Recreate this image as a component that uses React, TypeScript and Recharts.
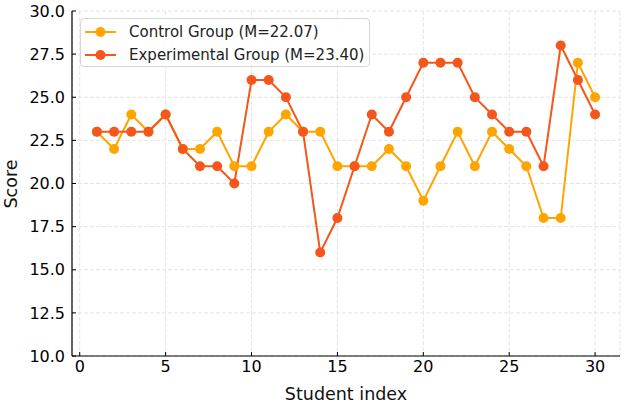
import { CartesianGrid, Label, Line, LineChart, XAxis, YAxis } from 'recharts';

const students = [1, 2, 3, 4, 5, 6, 7, 8, 9, 10, 11, 12, 13, 14, 15, 16, 17, 18, 19, 20, 21, 22, 23, 24, 25, 26, 27, 28, 29, 30];
const controlScores = [23, 22, 24, 23, 24, 22, 22, 23, 21, 21, 23, 24, 23, 23, 21, 21, 21, 22, 21, 19, 21, 23, 21, 23, 22, 21, 18, 18, 27, 25];
const experimentalScores = [23, 23, 23, 23, 24, 22, 21, 21, 20, 26, 26, 25, 23, 16, 18, 21, 24, 23, 25, 27, 27, 27, 25, 24, 23, 23, 21, 28, 26, 24];
const xTicks = [0, 5, 10, 15, 20, 25, 30];
const yTicks = [10, 12.5, 15, 17.5, 20, 22.5, 25, 27.5, 30];

const CONTROL = '#FFA500';
const EXPERIMENTAL = '#F4561B';
const FONT = '"DejaVu Sans", sans-serif';

const mean = (a: number[]) => a.reduce((s, v) => s + v, 0) / a.length;
const controlName = `Control Group (M=${mean(controlScores).toFixed(2)})`;
const experimentalName = `Experimental Group (M=${mean(experimentalScores).toFixed(2)})`;

const data = students.map((s, i) => ({
  student: s,
  control: controlScores[i],
  experimental: experimentalScores[i],
}));

function LegendBox() {
  const rows = [
    { name: controlName, color: CONTROL },
    { name: experimentalName, color: EXPERIMENTAL },
  ];
  return (
    <div
      style={{
        position: 'absolute',
        left: 80,
        top: 18,
        width: 290,
        height: 49,
        boxSizing: 'border-box',
        border: '1px solid #d6d6d6',
        borderRadius: 4,
        background: 'rgba(255,255,255,0.85)',
        padding: '1px 0 0 4px',
        fontFamily: FONT,
        fontSize: 15,
        color: '#222',
      }}
    >
      {rows.map((r) => (
        <div key={r.name} style={{ display: 'flex', alignItems: 'center', height: 23 }}>
          <svg width={44} height={14} style={{ flex: 'none' }}>
            <line x1={0} y1={7} x2={31} y2={7} stroke={r.color} strokeWidth={2} />
            <circle cx={15.5} cy={7} r={5} fill={r.color} />
          </svg>
          <span>{r.name}</span>
        </div>
      ))}
    </div>
  );
}

export default function App() {
  return (
    <div style={{ position: 'absolute', left: 0, top: 0, width: 624, height: 403, background: '#fff' }}>
      <LineChart width={624} height={403} data={data} margin={{ top: 11, right: 4, left: 0, bottom: 0 }}>
        <CartesianGrid stroke="#e4e4e4" strokeDasharray="4 2" />
        <XAxis
          dataKey="student"
          type="number"
          domain={[-0.45, 31.45]}
          ticks={xTicks}
          allowDataOverflow
          height={47}
          tickSize={-4}
          tickMargin={9}
          tick={{ fill: '#000', fontSize: 16, fontFamily: FONT }}
          axisLine={{ stroke: '#000', strokeWidth: 1.2 }}
          tickLine={{ stroke: '#000' }}
        >
          <Label
            value="Student index"
            position="insideBottom"
            offset={3}
            style={{ fill: '#111', fontSize: 17.5, fontFamily: FONT }}
          />
        </XAxis>
        <YAxis
          type="number"
          domain={[10, 30]}
          ticks={yTicks}
          allowDataOverflow
          width={72}
          tickSize={-4}
          tickMargin={11}
          tickFormatter={(v) => Number(v).toFixed(1)}
          tick={{ fill: '#000', fontSize: 16, fontFamily: FONT }}
          axisLine={{ stroke: '#000', strokeWidth: 1.2 }}
          tickLine={{ stroke: '#000' }}
        >
          <Label
            content={() => (
              <text
                x={0}
                y={0}
                transform="translate(17,184) rotate(-90)"
                textAnchor="middle"
                fill="#111"
                fontSize={17.5}
                fontFamily={FONT}
              >
                Score
              </text>
            )}
          />
        </YAxis>
        <Line
          dataKey="control"
          name={controlName}
          stroke={CONTROL}
          strokeWidth={2}
          dot={{ r: 5, fill: CONTROL, stroke: CONTROL, strokeWidth: 0 }}
          activeDot={false}
          isAnimationActive={false}
        />
        <Line
          dataKey="experimental"
          name={experimentalName}
          stroke={EXPERIMENTAL}
          strokeWidth={2}
          dot={{ r: 5, fill: EXPERIMENTAL, stroke: EXPERIMENTAL, strokeWidth: 0 }}
          activeDot={false}
          isAnimationActive={false}
        />
      </LineChart>
      <LegendBox />
    </div>
  );
}
